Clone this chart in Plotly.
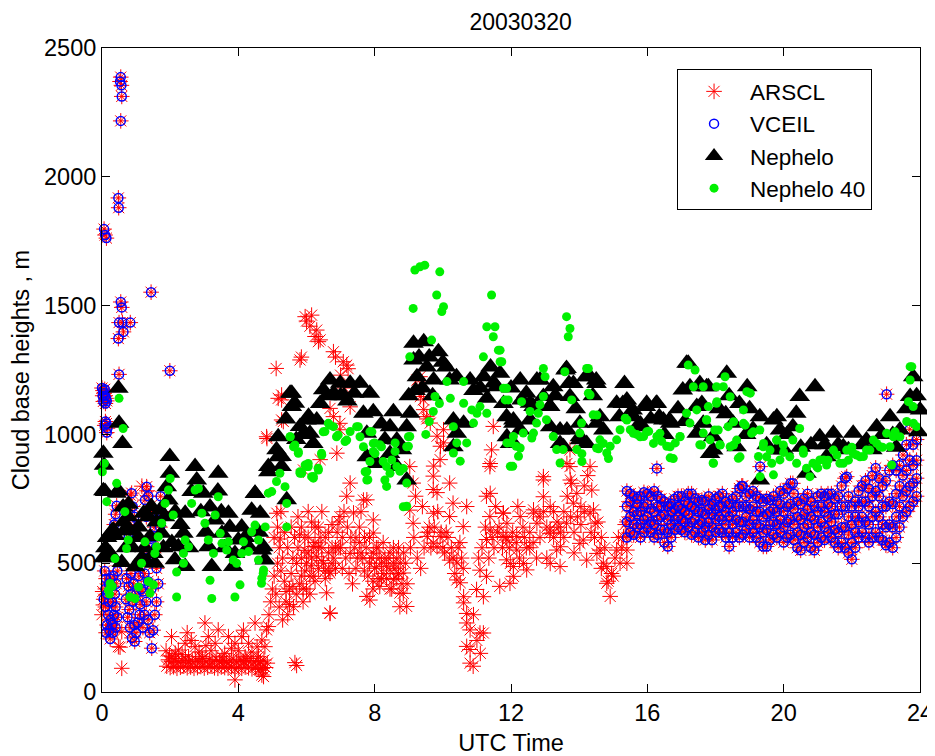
import plotly.graph_objects as go

# ---------------- DATA (UTC hours, metres) ----------------
# Points where ARSCL and VCEIL coincide (drawn in both series)
common_early_t = [0.55, 0.53, 0.57, 0.58, 0.55, 0.48, 0.49, 0.06, 0.09, 0.13,
                  0.55, 0.58, 0.50, 0.60, 0.83, 0.63, 0.48, 1.44, 0.50, 1.99,
                  0.00, 0.03, 0.06, 0.09, 0.12, 0.04, 0.10, 0.14, 0.02, 0.08,
                  0.10, 0.13, 0.16, 0.14, 0.08,
                  0.08, 0.12, 0.10, 0.15, 0.20, 0.10, 0.18, 0.25, 0.30, 0.22,
                  0.35, 0.40, 0.30, 0.38, 0.42, 0.28, 0.34, 0.45, 0.25, 0.15,
                  0.12, 0.40, 0.45, 0.20, 0.05, 0.32, 0.24, 0.43, 0.40, 0.36,
                  0.72, 0.78, 0.85, 0.90, 0.80, 0.75, 0.95, 1.00, 0.88, 0.96,
                  1.05, 1.10, 1.12, 1.00, 0.92, 1.08, 0.82, 0.70, 1.15, 0.85,
                  0.87, 0.90, 0.95, 0.82, 0.78, 0.90,
                  1.20, 1.25, 1.30, 1.35, 1.40, 1.46, 1.50, 1.55, 1.60, 1.45,
                  1.35, 1.25, 1.30, 1.40, 1.50, 1.55, 1.30, 1.26, 1.31, 1.36,
                  1.45, 1.60, 1.65, 1.20, 1.58, 1.72, 1.75, 1.70,
                  16.28, 19.31, 23.02, 18.77, 21.85, 20.27]
common_early_h = [2387, 2370, 2355, 2312, 2217, 1918, 1880, 1797, 1774, 1762,
                  1514, 1493, 1434, 1434, 1434, 1398, 1372, 1552, 1233, 1247,
                  1180, 1170, 1160, 1150, 1140, 1128, 1120, 1130, 1150, 1175,
                  1050, 1042, 1024, 1007, 1035,
                  470, 440, 400, 380, 350, 330, 300, 280, 260, 240,
                  300, 330, 350, 380, 420, 410, 450, 470, 440, 260,
                  230, 250, 290, 420, 360, 230, 206, 723, 690, 650,
                  440, 410, 380, 350, 320, 290, 260, 230, 210, 196,
                  270, 300, 340, 380, 420, 450, 250, 360, 400, 460,
                  772, 720, 680, 650, 600, 620,
                  250, 300, 350, 280, 230, 170, 240, 300, 350, 400,
                  430, 460, 520, 560, 600, 640, 680, 745, 797, 760,
                  700, 480, 420, 390, 560, 760, 700, 640,
                  868, 875, 1156, 800, 836, 810]

# Afternoon ceilometer band: time and the heights seen at that time
band_t = [15.4, 15.5, 15.6, 15.7, 15.8, 15.9, 16.0, 16.1, 16.2, 16.3,
          16.4, 16.5, 16.6, 16.7, 16.8, 16.9, 17.0, 17.1, 17.2, 17.3,
          17.4, 17.5, 17.6, 17.7, 17.8, 17.9, 18.0, 18.1, 18.2, 18.3,
          18.4, 18.5, 18.6, 18.7, 18.8, 18.9, 19.0, 19.1, 19.2, 19.3,
          19.4, 19.5, 19.6, 19.7, 19.8, 19.9, 20.0, 20.1, 20.2, 20.3,
          20.4, 20.5, 20.6, 20.7, 20.8, 20.9, 21.0, 21.1, 21.2, 21.3,
          21.4, 21.5, 21.6, 21.7, 21.8, 21.9, 22.0, 22.1, 22.2, 22.3,
          22.4, 22.5, 22.6, 22.7, 22.8, 22.9, 23.0, 23.1, 23.2, 23.3,
          23.4, 23.5, 23.6, 23.7, 23.8, 23.9]
band_h = [(600, 660, 720, 780), (620, 680, 740, 770), (610, 650, 700, 760), (640, 690, 730, 750),
          (600, 650, 700, 760), (620, 670, 720, 775), (640, 680, 730, 770), (620, 660, 710, 760),
          (600, 650, 700, 780), (610, 670, 720, 760), (630, 680, 720, 750), (580, 630, 690, 740),
          (565, 620, 670, 720), (600, 650, 700, 730), (630, 670, 710, 750), (640, 680, 720, 760),
          (630, 670, 710, 760), (620, 660, 700, 740), (640, 690, 730, 770), (610, 660, 720, 770),
          (620, 670, 710, 750), (600, 650, 700, 740), (620, 660, 700, 745), (590, 640, 690, 740),
          (610, 660, 710, 760), (590, 640, 690, 730), (620, 670, 710, 750), (630, 680, 720, 760),
          (620, 670, 720, 770), (600, 650, 700, 740), (565, 620, 680, 730), (600, 650, 700, 750),
          (620, 670, 720, 760), (600, 660, 720, 790), (610, 660, 720, 800), (630, 680, 720, 760),
          (600, 650, 710, 770), (620, 670, 720, 780), (600, 650, 700, 760), (580, 640, 700, 750),
          (565, 620, 680, 740), (565, 630, 690, 750), (590, 650, 700, 745), (610, 660, 710, 760),
          (600, 650, 700, 740), (620, 670, 730, 780), (580, 640, 700, 770), (600, 660, 720, 790),
          (610, 670, 730, 810), (590, 650, 710, 770), (560, 620, 680, 740), (550, 610, 670, 730),
          (580, 640, 690, 750), (600, 650, 710, 770), (560, 620, 680, 740), (550, 610, 670, 720),
          (580, 640, 700, 760), (600, 660, 720, 770), (590, 640, 700, 760), (620, 680, 730, 770),
          (600, 660, 720, 770), (580, 630, 690, 750), (560, 620, 690, 760), (580, 640, 720, 800),
          (560, 640, 720, 830), (540, 610, 680, 760), (515, 580, 650, 720), (560, 620, 680, 740),
          (600, 660, 720, 780), (620, 680, 740, 800), (600, 660, 740, 820), (580, 650, 720, 790),
          (600, 680, 760, 840), (620, 700, 780, 870), (600, 680, 760, 830), (590, 650, 720, 800),
          (570, 640, 720, 820), (580, 650, 740, 860), (560, 640, 730, 880), (600, 680, 770, 860),
          (640, 720, 800, 880), (680, 760, 840, 920), (700, 780, 860, 960), (720, 800, 900, 1020),
          (740, 810, 880, 960), (760, 830, 900, 980)]

# ARSCL-only points
arscl_t = [0.58, 0.02, 0.04, 0.53, 0.58, 0.48, 1.17, 0.83, 1.32, 0.00,
           1.90, 2.00, 2.10, 2.20, 2.30, 2.40, 2.50, 2.60, 2.70, 2.80,
           2.90, 3.00, 3.10, 3.20, 3.30, 3.40, 3.50, 3.60, 3.70, 3.80,
           3.90, 4.00, 4.10, 4.20, 4.30, 4.40, 4.50, 4.60, 4.70, 4.80,
           1.95, 2.05, 2.15, 2.25, 2.35, 2.45, 2.55, 2.65, 2.75, 2.85,
           2.95, 3.05, 3.15, 3.25, 3.35, 3.45, 3.55, 3.65, 3.75, 3.85,
           3.95, 4.05, 4.15, 4.25, 4.35, 4.45, 4.55, 4.65, 4.75, 4.85,
           1.88, 2.04, 2.24, 2.44, 2.73, 3.02, 3.12, 3.32, 3.41, 3.71,
           3.90, 4.10, 4.30, 4.49, 4.69, 4.88, 4.78, 2.54, 2.93, 3.52,
           4.20, 2.05, 4.59, 3.90, 4.69, 4.74, 2.15, 2.35, 2.62, 2.85,
           3.20, 3.60, 3.80, 4.00, 4.40, 4.55, 4.15, 3.05, 2.50, 1.98,
           4.83, 4.64, 4.90, 4.95, 5.00, 5.05, 5.10, 5.15, 5.13, 5.20,
           5.23, 5.25, 5.30, 5.35, 5.40, 5.45, 5.50, 5.55, 5.60, 5.62,
           5.66, 5.71, 5.71, 5.75, 5.80, 5.85, 5.90, 5.91, 5.95, 6.00,
           6.05, 6.10, 6.15, 6.20, 6.20, 6.25, 6.30, 6.35, 6.40, 6.40,
           6.45, 6.50, 6.55, 6.59, 6.65, 6.69, 6.69, 6.75, 6.80, 6.85,
           6.89, 6.90, 6.95, 6.98, 7.00, 7.05, 7.10, 7.18, 7.20, 7.28,
           7.28, 7.30, 7.38, 7.40, 7.45, 7.50, 7.55, 7.60, 7.67, 7.70,
           7.77, 7.77, 7.80, 7.86, 7.90, 7.96, 7.96, 7.96, 8.00, 8.05,
           8.10, 8.15, 8.20, 8.25, 8.35, 8.40, 8.45, 8.50, 8.55, 8.60,
           8.65, 8.70, 8.74, 8.74, 8.80, 8.84, 8.84, 8.90, 8.94, 6.69,
           5.85, 5.95, 6.05, 6.15, 6.25, 6.35, 6.45, 6.55, 6.65, 6.75,
           7.60, 7.70, 7.85, 7.95, 8.10, 8.20, 8.30, 8.45, 8.55, 8.70,
           5.11, 5.27, 5.17, 4.83, 5.32, 5.27, 4.84, 5.27, 5.81, 5.96,
           6.00, 6.15, 6.10, 6.30, 6.35, 6.40, 6.25, 6.79, 6.85, 7.08,
           7.18, 7.22, 6.69, 7.28, 6.98, 6.79, 6.98, 5.85, 7.00, 7.12,
           5.05, 5.15, 5.25, 5.35, 5.45, 5.55, 5.65, 5.75, 5.85, 5.95,
           6.05, 6.15, 6.25, 6.35, 6.45, 6.55, 6.65, 6.75, 6.85, 6.95,
           5.20, 5.30, 5.40, 5.50, 5.60, 5.70, 5.80, 5.90, 6.00, 6.10,
           7.05, 7.15, 7.25, 7.35, 7.45, 7.55, 7.65, 7.75, 7.85, 7.95,
           8.05, 8.15, 8.25, 8.35, 8.45, 8.55, 8.65, 8.75, 8.85, 8.95,
           9.03, 9.13, 9.03, 9.13, 9.24, 9.34, 9.44, 9.53, 9.63, 9.73,
           9.83, 9.93, 10.02, 10.02, 9.92, 9.72, 9.72, 9.83, 9.73, 9.54,
           9.83, 10.20, 10.41, 10.61, 10.70, 10.80, 10.70, 10.80, 10.89, 11.09,
           11.19, 11.19, 11.09, 11.39, 11.39, 11.48, 11.39, 11.78, 12.17, 11.98,
           10.70, 10.20, 9.92, 9.72, 10.41, 10.51, 10.61, 10.70, 10.80, 10.99,
           11.28, 11.28, 11.38, 11.28, 11.43, 11.38, 11.77, 11.77, 11.87, 12.07,
           11.67, 10.20, 10.30, 10.60, 9.33, 9.43, 9.53, 10.00, 10.10, 10.50,
           9.60, 10.90, 11.00, 11.10, 9.20, 9.40, 10.30, 10.60, 11.50, 11.60,
           9.05, 9.15, 9.25, 9.35, 9.45, 9.55, 9.65, 9.75, 9.85, 9.95,
           10.05, 10.15, 10.25, 10.35, 10.45, 10.55, 11.05, 11.15, 11.25, 11.35,
           11.45, 11.55, 11.65, 11.75, 11.85, 11.95,
           12.95, 12.95, 12.66, 12.27, 11.88, 11.88, 12.17, 12.07, 11.97, 12.46,
           12.76, 13.14, 13.34, 13.44, 13.73, 13.73, 13.78, 13.83, 13.63, 14.02,
           14.22, 14.32, 14.37, 14.42, 14.47, 14.61, 14.81, 14.81, 14.91, 15.10,
           15.30, 15.40, 15.40, 12.66, 12.95, 13.15, 13.64, 13.74, 13.93, 14.32,
           14.12, 14.52, 13.45, 13.15, 12.37, 12.55, 12.85, 13.05, 13.25, 13.55,
           13.85, 14.05, 14.15, 14.65, 14.71, 15.00, 15.20, 12.20, 12.40, 13.40,
           12.05, 12.15, 12.25, 12.35, 12.45, 12.55, 12.65, 12.75, 12.85, 12.95,
           13.05, 13.15, 13.25, 13.35, 13.45, 13.55, 13.65, 13.75, 13.85, 13.95,
           14.05, 14.15, 14.25, 14.35, 14.45, 14.55, 14.65, 14.75, 14.85, 14.95,
           15.05, 15.15, 15.25, 15.35]
arscl_h = [92, 390, 338, 174, 234, 176, 799, 764, 781, 300,
           100, 95, 98, 92, 96, 100, 94, 97, 92, 95,
           99, 93, 96, 100, 94, 92, 97, 95, 93, 98,
           90, 95, 92, 97, 94, 90, 96, 88, 92, 95,
           125, 118, 130, 115, 122, 128, 117, 120, 125, 119,
           130, 116, 124, 120, 127, 118, 123, 115, 121, 128,
           117, 125, 119, 122, 130, 116, 121, 118, 124, 112,
           160, 215, 163, 189, 176, 268, 215, 189, 241, 215,
           189, 215, 189, 268, 202, 254, 176, 137, 137, 137,
           137, 137, 137, 47, 66, 60, 150, 145, 200, 155,
           160, 150, 170, 160, 155, 175, 240, 180, 230, 140,
           241, 89, 300, 350, 400, 450, 380, 500, 694, 560,
           594, 470, 520, 430, 350, 300, 400, 460, 520, 331,
           114, 103, 499, 560, 610, 450, 400, 862, 550, 500,
           600, 450, 520, 449, 565, 640, 525, 480, 600, 902,
           560, 500, 440, 385, 470, 461, 305, 560, 520, 480,
           927, 620, 660, 681, 560, 600, 700, 760, 640, 811,
           538, 600, 695, 560, 480, 520, 640, 700, 745, 600,
           746, 371, 450, 357, 520, 668, 617, 539, 480, 486,
           440, 410, 500, 460, 488, 520, 473, 400, 436, 480,
           520, 460, 384, 331, 420, 383, 462, 500, 332, 307,
           520, 470, 540, 490, 430, 560, 510, 470, 540, 500,
           540, 470, 500, 430, 560, 440, 520, 540, 500, 560,
           1256, 1153, 1140, 991, 1050, 1056, 984, 1134, 1289, 1457,
           1440, 1463, 1420, 1405, 1360, 1367, 1380, 1321, 1300, 1282,
           1269, 1255, 1101, 1107, 1043, 1069, 1018, 1300, 1230, 1180,
           600, 640, 700, 620, 560, 640, 600, 680, 640, 600,
           700, 660, 580, 640, 700, 600, 620, 650, 560, 560,
           330, 280, 390, 340, 410, 380, 420, 350, 400, 380,
           480, 520, 460, 420, 600, 580, 520, 560, 600, 400,
           560, 520, 580, 440, 400, 560, 440, 500, 540, 420,
           875, 811, 706, 655, 1211, 1147, 1096, 1069, 1044, 877,
           993, 954, 1018, 967, 902, 838, 786, 774, 694, 604,
           564, 512, 435, 370, 305, 241, 177, 112, 100, 229,
           229, 370, 473, 629, 771, 1031, 887, 694, 604, 499,
           720, 681, 604, 578, 501, 424, 346, 268, 165, 398,
           449, 592, 681, 760, 940, 875, 695, 604, 513, 449,
           410, 811, 733, 642, 1224, 1134, 1060, 560, 620, 580,
           640, 300, 200, 150, 760, 720, 520, 480, 560, 620,
           560, 600, 520, 480, 560, 620, 560, 640, 700, 620,
           540, 600, 560, 460, 560, 520, 520, 560, 640, 520,
           600, 720, 640, 560, 600, 560,
           836, 758, 707, 681, 655, 590, 551, 487, 422, 474,
           655, 616, 551, 487, 940, 875, 810, 733, 655, 577,
           512, 875, 784, 707, 655, 551, 487, 422, 371, 551,
           603, 551, 500, 694, 823, 629, 887, 823, 771, 694,
           590, 538, 564, 499, 499, 560, 600, 520, 700, 600,
           540, 650, 700, 600, 500, 450, 500, 720, 600, 640,
           620, 580, 520, 640, 560, 620, 580, 520, 680, 700,
           640, 720, 600, 660, 620, 700, 760, 680, 620, 680,
           720, 800, 840, 620, 600, 660, 480, 560, 430, 460,
           520, 600, 560, 650]

# Nephelometer (triangles)
neph_t = [0.04, 0.06, 0.09, 0.04, 0.48, 0.50, 0.60, 0.43, 0.48, 0.33,
          0.29, 0.38, 0.24, 0.19, 0.04, 0.62, 0.67, 0.63, 0.77, 0.78,
          0.83, 0.87, 0.97, 0.58, 1.07, 1.07, 1.16, 1.17, 1.22, 1.36,
          1.41, 1.32, 1.51, 1.55, 1.70, 1.75, 1.90, 1.95, 1.99, 1.99,
          1.60, 1.45, 0.10, 0.15, 0.70, 1.25, 1.85, 1.80,
          2.44, 2.39, 2.24, 2.14, 2.44, 2.73, 2.78, 2.63, 2.97, 3.41,
          3.17, 3.32, 3.52, 3.12, 3.22, 3.71, 3.90, 3.85, 4.49, 4.39,
          4.10, 4.30, 4.69, 4.78, 5.17, 5.12, 4.88, 2.30, 2.55, 2.90,
          3.05, 3.60, 3.40, 4.00, 4.20, 4.60, 3.75, 2.05, 2.15, 3.50,
          5.57, 6.06, 5.57, 5.81, 5.27, 5.42, 5.17, 5.27, 4.88, 5.52,
          5.66, 6.00, 6.10, 6.30, 6.20, 6.69, 6.99, 7.28, 7.57, 6.49,
          7.86, 7.67, 7.96, 8.55, 9.04, 7.77, 8.45, 8.65, 8.94, 7.77,
          8.06, 8.45, 8.65, 8.94, 4.49, 4.64, 4.73, 6.80, 7.10, 7.40,
          8.20, 8.80, 8.30, 7.20, 5.40, 5.70, 6.40, 6.60, 5.90, 7.00,
          9.14, 9.44, 9.87, 9.14, 9.24, 9.53, 10.10, 10.20, 9.73, 10.40,
          10.80, 11.20, 11.40, 11.68, 11.58, 12.27, 12.76, 13.60, 13.70, 14.20,
          14.50, 10.31, 10.41, 10.31, 10.61, 11.87, 12.07, 11.97, 12.56, 12.56,
          13.15, 13.15, 13.64, 13.54, 14.02, 14.22, 14.52, 11.78, 11.88, 12.31,
          12.07, 12.27, 12.07, 12.66, 12.85, 13.24, 12.95, 13.14, 13.63, 13.83,
          13.73, 14.32, 14.51, 13.44, 13.44, 14.02, 14.02, 14.61, 14.71, 15.33,
          15.28, 15.18, 15.10, 15.40, 9.30, 9.60, 10.00, 10.90, 11.10, 11.50,
          9.00, 9.20, 9.70, 9.40, 11.30, 12.00, 12.45, 13.30, 13.90, 14.40,
          15.57, 15.96, 16.26, 16.35, 16.65, 15.59, 15.98, 16.28, 16.47, 16.67,
          17.15, 17.04, 17.54, 17.74, 17.45, 17.64, 17.84, 17.93, 17.20, 17.25,
          17.79, 18.33, 18.93, 17.45, 17.93, 18.62, 18.52, 19.30, 19.70, 19.89,
          20.47, 20.37, 20.27, 19.80, 19.30, 20.67, 21.06, 21.46, 22.04, 21.75,
          22.43, 22.73, 23.12, 23.41, 23.80, 23.71, 24.00, 21.26, 20.92, 19.80,
          18.10, 18.30, 18.70, 19.00, 19.50, 20.00, 20.80, 21.60, 22.30, 22.90,
          23.30, 23.60, 23.90, 16.90, 17.10, 16.10, 15.80, 18.90, 20.10, 21.90,
          22.60, 23.20, 21.20, 20.50, 19.10, 18.40, 17.60, 16.50, 15.70, 23.95]
neph_h = [927, 880, 778, 781, 1179, 1043, 965, 772, 781, 629,
          625, 608, 538, 521, 521, 718, 629, 660, 680, 729,
          625, 564, 486, 503, 641, 600, 512, 521, 694, 680,
          603, 503, 538, 500, 706, 616, 797, 745, 914, 849,
          660, 720, 560, 600, 560, 560, 680, 560,
          694, 616, 564, 513, 487, 875, 823, 778, 772, 849,
          718, 668, 616, 564, 487, 694, 538, 487, 772, 706,
          641, 564, 551, 512, 991, 940, 875, 650, 560, 700,
          620, 560, 780, 590, 600, 620, 640, 580, 700, 700,
          1160, 1070, 1108, 1031, 914, 746, 913, 875, 855, 1160,
          1121, 1056, 1004, 1056, 965, 1211, 1199, 1199, 1199, 1173,
          1160, 1082, 1088, 1088, 1082, 1004, 1030, 978, 1030, 913,
          887, 926, 875, 823, 771, 694, 564, 1160, 1150, 1160,
          1040, 940, 980, 1130, 1060, 980, 1120, 1150, 1000, 1150,
          1354, 1360, 1321, 1289, 1224, 1262, 1262, 1211, 1211, 1224,
          1211, 1224, 1262, 1237, 1185, 1211, 1211, 1250, 1198, 1224,
          1211, 1056, 1004, 952, 1043, 1069, 1043, 965, 1121, 1056,
          1108, 1030, 1017, 952, 991, 965, 1043, 1120, 991, 1134,
          1056, 1017, 965, 1108, 1211, 1185, 1147, 1108, 1256, 1198,
          1147, 1224, 1198, 1017, 965, 1043, 979, 1069, 1017, 1198,
          1120, 1069, 1121, 1134, 1300, 1300, 1280, 1170, 1180, 1200,
          1150, 1170, 1150, 1180, 1140, 1180, 1160, 1150, 1100, 1150,
          1095, 1108, 1120, 1069, 1056, 1069, 1121, 1121, 1056, 1043,
          1276, 1172, 1198, 1185, 1108, 1043, 926, 991, 1276, 1185,
          1185, 1237, 1185, 1004, 939, 952, 1043, 1069, 1056, 1017,
          1147, 1082, 1030, 939, 823, 849, 991, 1004, 1004, 952,
          978, 1030, 1069, 1017, 1224, 1147, 1095, 913, 1185, 1069,
          1100, 1080, 1120, 1100, 960, 940, 960, 960, 960, 1000,
          950, 1100, 1150, 1100, 1050, 1060, 1040, 1000, 1000, 940,
          940, 1000, 960, 950, 1020, 1150, 1120, 1000, 1030, 1010]

# Nephelometer 40 (green dots)
neph40_t = [0.50, 0.62, 0.07, 0.01, 0.43, 0.14, 0.67, 0.77, 0.72, 0.38,
            0.24, 0.19, 0.97, 0.82, 1.07, 1.26, 1.16, 1.36, 1.51, 1.41,
            1.55, 1.60, 1.65, 1.75, 1.85, 2.00, 1.95, 2.09, 2.19, 2.39,
            2.44, 2.54, 2.39, 2.19, 2.73, 2.83, 2.63, 2.93, 3.02, 3.12,
            3.17, 3.22, 3.27, 3.41, 3.32, 3.47, 3.52, 3.71, 3.66, 3.85,
            3.95, 3.90, 4.15, 4.10, 4.30, 4.39, 4.49, 4.59, 4.59, 4.05,
            4.69, 4.74, 4.79, 4.88, 4.98, 5.12, 5.22, 5.37, 5.42, 5.42,
            5.52, 5.66, 5.76, 5.86, 6.05, 6.15, 4.73, 4.68, 0.30, 0.22,
            5.52, 5.62, 5.76, 5.81, 5.96, 6.05, 6.20, 6.35, 6.45, 6.64,
            6.54, 6.79, 6.93, 7.18, 7.28, 7.52, 7.72, 7.86, 7.96, 8.01,
            8.20, 7.77, 8.35, 8.30, 8.45, 8.65, 8.84, 8.94, 8.99, 8.84,
            9.18, 9.47, 9.33, 9.91, 9.82, 10.02, 9.97, 9.13, 11.43, 11.29,
            11.53, 11.48, 11.63, 11.68, 11.19, 9.67, 9.03, 10.12, 10.61, 9.77,
            9.72, 10.22, 10.61, 10.85, 11.00, 11.09, 11.29, 10.90, 11.87, 11.92,
            10.31, 10.41, 10.31, 10.51, 10.70, 12.00, 12.15, 12.05, 6.49, 6.69,
            6.88, 7.13, 7.47, 7.57, 6.44, 5.81, 6.00, 6.20, 6.34, 7.67,
            7.92, 8.00, 8.15, 7.96, 7.86, 8.25, 8.50, 8.60, 8.60, 8.74,
            8.94, 8.99, 9.03, 8.35, 7.80, 7.77, 8.94, 9.60, 9.90, 9.50,
            13.63, 13.73, 13.68, 11.68, 11.73, 12.95, 13.00, 14.27, 11.78, 11.83,
            12.31, 12.95, 12.85, 12.56, 12.80, 13.58, 13.78, 14.27, 14.41, 12.75,
            13.04, 14.07, 14.02, 11.88, 12.07, 12.36, 12.66, 12.61, 11.98, 12.22,
            12.27, 13.24, 13.34, 13.53, 13.44, 13.93, 14.08, 14.61, 14.51, 14.81,
            14.91, 15.10, 15.20, 15.35, 15.50, 15.69, 15.89, 16.04, 16.28, 16.42,
            16.57, 16.67, 16.82, 16.96, 17.20, 17.40, 17.35, 17.64, 18.03, 17.45,
            17.74, 17.64, 17.54, 17.84, 17.93, 17.15, 17.25, 18.03, 14.22, 14.32,
            14.52, 14.08, 14.57, 14.86, 14.71, 15.40, 15.59, 15.79, 15.98, 16.18,
            16.37, 16.67, 16.96, 16.76, 18.23, 18.92, 19.02, 17.79, 17.74, 18.08,
            18.37, 18.82, 18.82, 18.62, 18.43, 18.13, 18.72, 19.06, 19.30, 19.41,
            19.80, 19.50, 19.65, 19.89, 20.18, 20.47, 20.27, 20.57, 20.86, 21.06,
            21.26, 21.46, 21.65, 21.85, 22.04, 22.24, 22.53, 22.73, 23.02, 23.27,
            23.41, 23.12, 23.71, 23.71, 23.66, 23.61, 23.80, 23.90, 23.17, 18.28,
            18.43, 18.04, 17.98, 17.59, 18.14, 17.94, 18.53, 18.87, 19.11, 18.53,
            18.67, 19.26, 19.31, 19.40, 19.60, 19.79, 19.99, 19.70, 20.38, 20.58,
            20.67, 20.77, 20.97, 21.17, 21.56, 21.75, 22.14, 22.34, 22.43, 22.63,
            22.83, 23.22, 23.81, 23.76, 21.00, 21.30, 21.90, 22.00, 22.90, 20.00]
neph40_h = [1140, 1023, 887, 855, 810, 739, 700, 590, 557, 518,
            421, 395, 363, 369, 408, 583, 500, 429, 416, 384,
            538, 564, 603, 655, 732, 829, 784, 687, 466, 500,
            590, 564, 538, 369, 784, 790, 732, 694, 655, 590,
            434, 363, 538, 758, 687, 616, 577, 583, 551, 512,
            500, 369, 583, 538, 545, 622, 648, 590, 512, 416,
            442, 474, 641, 772, 778, 817, 849, 797, 732, 641,
            991, 959, 933, 849, 875, 836, 461, 422, 410, 380,
            991, 952, 927, 855, 881, 887, 830, 862, 920, 1043,
            1011, 1030, 998, 978, 1011, 1030, 855, 1011, 965, 926,
            952, 823, 875, 823, 849, 875, 868, 952, 991, 719,
            1638, 1657, 1651, 1631, 1541, 1496, 1477, 1489, 1541, 1418,
            1418, 1379, 1327, 1282, 1301, 1366, 1301, 1205, 1205, 1147,
            1089, 1140, 1121, 1095, 1082, 1108, 1082, 1044, 1179, 1134,
            1030, 967, 928, 896, 967, 967, 954, 876, 1010, 1036,
            991, 972, 1030, 991, 927, 849, 875, 837, 869, 952,
            1010, 967, 960, 934, 895, 895, 901, 967, 934, 857,
            811, 954, 992, 798, 824, 856, 721, 1050, 1120, 1000,
            1457, 1411, 1379, 1327, 1282, 1256, 1224, 1256, 1179, 1134,
            1127, 1147, 1115, 1089, 1082, 1243, 1134, 1160, 1076, 1044,
            1057, 1044, 1005, 967, 992, 1005, 1005, 986, 876, 915,
            947, 992, 941, 941, 889, 941, 895, 979, 947, 928,
            954, 979, 1018, 1063, 1018, 1000, 992, 1012, 992, 973,
            954, 909, 967, 992, 1269, 1250, 1185, 1185, 1185, 1095,
            1057, 1005, 960, 979, 889, 1082, 1044, 1121, 1256, 1153,
            1075, 925, 944, 906, 965, 1056, 1004, 991, 1010, 965,
            1004, 952, 991, 906, 1185, 1166, 1160, 1108, 1056, 1017,
            1030, 1095, 1043, 978, 952, 960, 913, 1004, 1017, 965,
            978, 913, 888, 901, 913, 1023, 978, 939, 888, 901,
            881, 939, 888, 939, 926, 913, 939, 965, 1004, 1010,
            991, 952, 1263, 1211, 1127, 1050, 1108, 1030, 881, 1224,
            1146, 1127, 1017, 959, 959, 888, 1049, 1036, 1010, 959,
            907, 914, 836, 952, 939, 978, 959, 843, 888, 927,
            869, 836, 875, 901, 920, 888, 920, 914, 939, 978,
            952, 991, 1043, 1263, 870, 900, 900, 950, 950, 930]

x_ticks = [0, 4, 8, 12, 16, 20, 24]
y_ticks = [0, 500, 1000, 1500, 2000, 2500]
title_text = "20030320"

# ---------------- assemble ----------------
band_x, band_y = [], []
for t, hs in zip(band_t, band_h):
    for h in hs:
        band_x.append(t)
        band_y.append(h)

ceil_x = common_early_t + band_x
ceil_y = common_early_h + band_y
arscl_x = arscl_t + ceil_x
arscl_y = arscl_h + ceil_y

FONT = "Liberation Sans, Arial, sans-serif"
fig = go.Figure()
fig.add_trace(go.Scatter(x=arscl_x, y=arscl_y, mode="markers", name="ARSCL", cliponaxis=False,
                         marker=dict(symbol="asterisk-open", size=13, color="#ff0000",
                                     line=dict(color="#ff0000", width=1))))
fig.add_trace(go.Scatter(x=ceil_x, y=ceil_y, mode="markers", name="VCEIL", cliponaxis=False,
                         marker=dict(symbol="circle-open", size=9, color="#0000ff",
                                     line=dict(color="#0000ff", width=1.5))))
fig.add_trace(go.Scatter(x=neph_t, y=neph_h, mode="markers", name="Nephelo", cliponaxis=False,
                         marker=dict(symbol="triangle-up", size=18, color="#000000",
                                     line=dict(width=0))))
fig.add_trace(go.Scatter(x=neph40_t, y=neph40_h, mode="markers", name="Nephelo 40", cliponaxis=False,
                         marker=dict(symbol="circle", size=9, color="#00f000",
                                     line=dict(width=0))))

axis_common = dict(showline=True, linecolor="black", linewidth=1, mirror="ticks",
                   ticks="inside", ticklen=8, tickcolor="black", showgrid=False,
                   zeroline=False, automargin=False,
                   tickfont=dict(family=FONT, size=23.5, color="black"))
# The page body adds an 8 px offset, so the figure is 8 px smaller and shifted.
fig.update_layout(
    width=927, height=748,
    margin=dict(l=94, r=15, t=40, b=64, autoexpand=False),
    paper_bgcolor="white", plot_bgcolor="white",
    font=dict(family=FONT, size=23, color="black"),
    title=dict(text=title_text, x=0.553, xanchor="center", y=0.9813, yanchor="middle",
               font=dict(family=FONT, size=23, color="black")),
    xaxis=dict(range=[0, 24], tickvals=x_ticks, ticktext=[str(v) for v in x_ticks],
               title=dict(text="UTC Time", standoff=12, font=dict(family=FONT, size=23.5)),
               **axis_common),
    yaxis=dict(range=[0, 2500], tickvals=y_ticks, ticktext=[str(v) for v in y_ticks],
               title=dict(text="Cloud base heights , m", standoff=19, font=dict(family=FONT, size=23.5)),
               **axis_common),
    legend=dict(x=0.703, y=0.967, xanchor="left", yanchor="top",
                bgcolor="white", bordercolor="black", borderwidth=1,
                font=dict(family=FONT, size=22.5, color="black"),
                itemsizing="trace", itemwidth=62, tracegroupgap=0),
    showlegend=True,
)
fig.write_html("out.html")
